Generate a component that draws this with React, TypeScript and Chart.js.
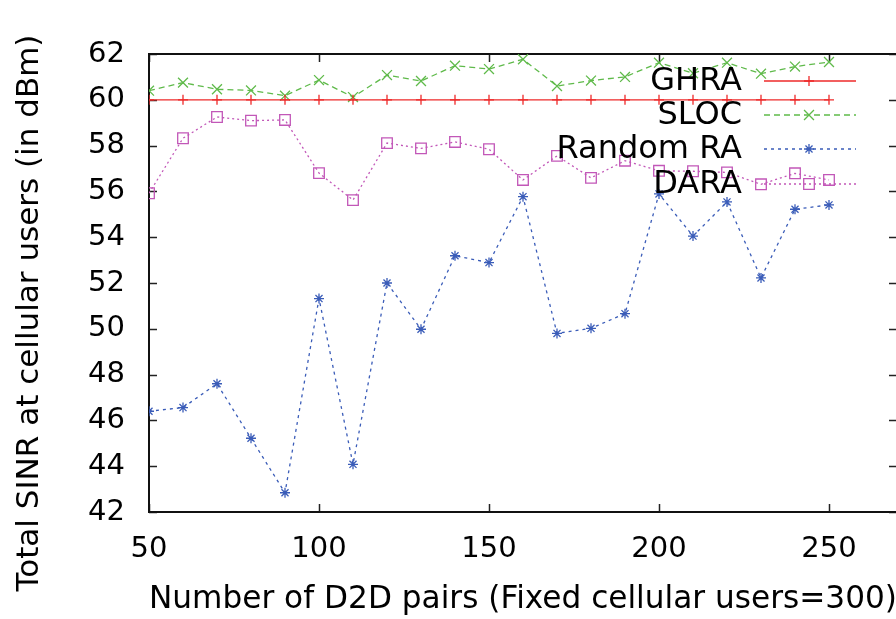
import React, { useEffect, useRef } from "react";
import { Chart, registerables } from "chart.js";

Chart.register(...registerables);

const xValues = [50, 60, 70, 80, 90, 100, 110, 120, 130, 140, 150, 160, 170, 180, 190, 200, 210, 220, 230, 240, 250];
const ghra = [60, 60, 60, 60, 60, 60, 60, 60, 60, 60, 60, 60, 60, 60, 60, 60, 60, 60, 60, 60, 60];
const sloc = [60.4, 60.75, 60.46, 60.41, 60.18, 60.86, 60.12, 61.08, 60.82, 61.49, 61.34, 61.77, 60.6, 60.84, 61.0, 61.62, 61.16, 61.62, 61.14, 61.45, 61.65];
const randomRA = [46.4, 46.56, 47.6, 45.22, 42.84, 51.32, 44.08, 52.0, 49.98, 53.19, 52.89, 55.77, 49.8, 50.02, 50.66, 55.89, 54.05, 55.54, 52.22, 55.22, 55.41];
const dara = [55.92, 58.32, 59.25, 59.09, 59.12, 56.8, 55.62, 58.11, 57.88, 58.16, 57.84, 56.5, 57.55, 56.59, 57.34, 56.9, 56.88, 56.83, 56.31, 56.79, 56.5];
const seriesNames = ["GHRA", "SLOC", "Random RA", "DARA"];
const xTicks = [50, 100, 150, 200, 250];
const xTitle = "Number of D2D pairs (Fixed cellular users=300)";
const yTitle = "Total SINR at cellular users (in dBm)";

const FONT = "'DejaVu Sans', sans-serif";
const CANVAS_W = 910;
const CANVAS_H = 619;

function marker(ctx: CanvasRenderingContext2D, style: string, r: number, x: number, y: number) {
  ctx.beginPath();
  const d = r * Math.SQRT1_2;
  if (style === "cross" || style === "star") {
    ctx.moveTo(x - r, y); ctx.lineTo(x + r, y);
    ctx.moveTo(x, y - r); ctx.lineTo(x, y + r);
  }
  if (style === "crossRot" || style === "star") {
    ctx.moveTo(x - d, y - d); ctx.lineTo(x + d, y + d);
    ctx.moveTo(x - d, y + d); ctx.lineTo(x + d, y - d);
  }
  if (style === "rect") {
    ctx.rect(x - d, y - d, 2 * d, 2 * d);
  }
  ctx.stroke();
}

const frameAndLegend = {
  id: "frameAndLegend",
  beforeDatasetsDraw(chart: any) {
    const { ctx, chartArea: a, scales } = chart;
    ctx.save();
    ctx.strokeStyle = "#222";
    ctx.lineWidth = 1.5;
    const tl = 8;
    ctx.beginPath();
    for (const v of xTicks) {
      const px = Math.round(scales.x.getPixelForValue(v)) + 0.5;
      ctx.moveTo(px, a.bottom);
      ctx.lineTo(px, a.bottom - tl);
      ctx.moveTo(px, a.top);
      ctx.lineTo(px, a.top + tl);
    }
    for (let v = 42; v <= 62; v += 2) {
      const py = Math.round(scales.y.getPixelForValue(v)) + 0.5;
      ctx.moveTo(a.left, py);
      ctx.lineTo(a.left + tl, py);
      ctx.moveTo(a.right, py);
      ctx.lineTo(a.right - tl, py);
    }
    ctx.stroke();
    ctx.strokeStyle = "#111";
    ctx.lineWidth = 2;
    ctx.strokeRect(a.left, a.top, a.right - a.left, a.bottom - a.top);
    ctx.restore();
  },
  afterDraw(chart: any) {
    const { ctx } = chart;
    const ys = [81, 115, 149, 184];
    ctx.save();
    // y axis title
    ctx.save();
    ctx.font = `31px ${FONT}`;
    ctx.fillStyle = "#000";
    ctx.textAlign = "center";
    ctx.textBaseline = "middle";
    ctx.translate(30, 313);
    ctx.rotate(-Math.PI / 2);
    ctx.fillText(yTitle, 0, 0);
    ctx.restore();
    // legend
    ctx.font = `32px ${FONT}`;
    ctx.fillStyle = "#000";
    ctx.textAlign = "right";
    ctx.textBaseline = "middle";
    chart.data.datasets.forEach((ds: any, i: number) => {
      const y = ys[i];
      ctx.fillText(ds.label, 742, y + 1);
      ctx.save();
      ctx.strokeStyle = ds.borderColor;
      ctx.lineWidth = ds.borderWidth;
      ctx.setLineDash(ds.borderDash || []);
      ctx.beginPath();
      ctx.moveTo(764, y);
      ctx.lineTo(856, y);
      ctx.stroke();
      ctx.setLineDash([]);
      marker(ctx, ds.pointStyle, ds.pointRadius, 809, y);
      ctx.restore();
    });
    ctx.restore();
  },
};

export default function App() {
  const ref = useRef<HTMLCanvasElement | null>(null);
  useEffect(() => {
    if (!ref.current) return;
    const colors = ["#ee2a2a", "#5fba4a", "#3a5cb8", "#c257b8"];
    const dashes = [[], [6, 4], [3, 4], [2, 3]];
    const styles = ["cross", "crossRot", "star", "rect"];
    const radii = [5, 7, 5, 7.5];
    const values = [ghra, sloc, randomRA, dara];
    const datasets = values.map((vals, i) => ({
      label: seriesNames[i],
      data: xValues.map((x, j) => ({ x, y: vals[j] })),
      borderColor: colors[i],
      backgroundColor: "transparent",
      pointBackgroundColor: "transparent",
      pointBorderColor: colors[i],
      borderWidth: 1.3,
      pointBorderWidth: 1.3,
      borderDash: dashes[i],
      pointStyle: styles[i],
      pointRadius: radii[i],
      fill: false,
      tension: 0,
    }));
    const chart = new Chart(ref.current, {
      type: "line",
      data: { datasets },
      options: {
        animation: false,
        responsive: false,
        maintainAspectRatio: false,
        devicePixelRatio: 1,
        layout: { padding: { top: 54, right: CANVAS_W - 897, left: 0, bottom: 0 } },
        plugins: { legend: { display: false }, tooltip: { enabled: false } },
        scales: {
          x: {
            type: "linear",
            min: 50,
            max: 270,
            grid: { display: false, drawTicks: false },
            border: { display: false },
            afterBuildTicks: (s: any) => {
              s.ticks = xTicks.map((v) => ({ value: v }));
            },
            afterFit: (s: any) => {
              s.height = CANVAS_H - 512;
            },
            ticks: { color: "#000", font: { family: FONT, size: 29 }, padding: 20, maxRotation: 0, autoSkip: false },
            title: { display: true, text: xTitle, color: "#000", font: { family: FONT, size: 32 }, padding: { top: 0, bottom: 0 } },
          },
          y: {
            type: "linear",
            min: 42,
            max: 62,
            grid: { display: false, drawTicks: false },
            border: { display: false },
            afterFit: (s: any) => {
              s.width = 149;
            },
            ticks: { stepSize: 2, color: "#000", font: { family: FONT, size: 29 }, padding: 24 },
            title: { display: false, text: yTitle },
          },
        },
      },
      plugins: [frameAndLegend],
    });
    return () => chart.destroy();
  }, []);
  return (
    <div style={{ position: "fixed", left: 0, top: 0, width: 896, height: 619, overflow: "hidden", background: "#fff" }}>
      <canvas ref={ref} width={CANVAS_W} height={CANVAS_H} style={{ width: CANVAS_W, height: CANVAS_H, display: "block" }} />
    </div>
  );
}
